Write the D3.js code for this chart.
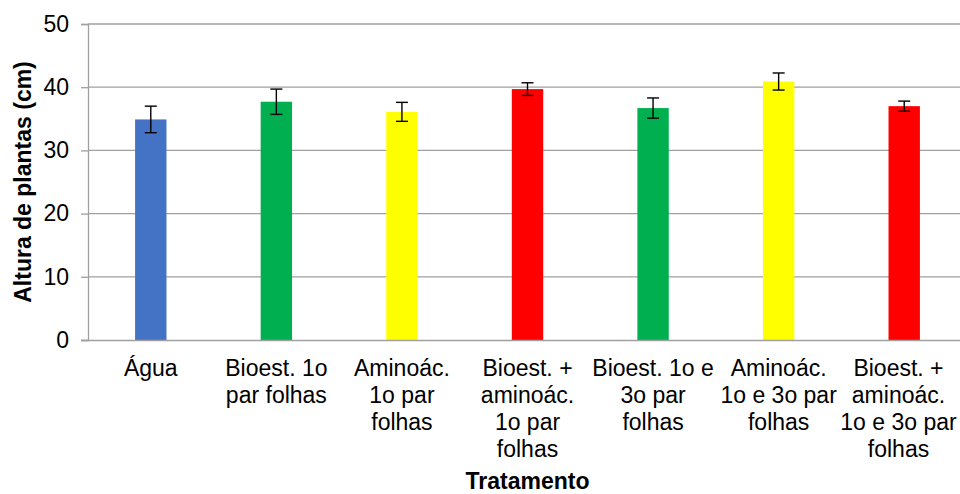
<!DOCTYPE html>
<html>
<head>
<meta charset="utf-8">
<script src="https://cdn.jsdelivr.net/npm/d3@7/dist/d3.min.js"></script>
<style>
  html, body { margin: 0; padding: 0; background: #fff; }
  svg { display: block; font-family: "Liberation Sans", Arial, sans-serif; }
</style>
</head>
<body>
<svg id="chart" width="960" height="494"></svg>
<script>
const categories = [
  ["Água"],
  ["Bioest. 1o", "par folhas"],
  ["Aminoác.", "1o par", "folhas"],
  ["Bioest. +", "aminoác.", "1o par", "folhas"],
  ["Bioest. 1o e", "3o par", "folhas"],
  ["Aminoác.", "1o e 3o par", "folhas"],
  ["Bioest. +", "aminoác.", "1o e 3o par", "folhas"]
];
const values = [34.9, 37.7, 36.1, 39.7, 36.7, 40.9, 37.0];
const errors = [2.1, 2.0, 1.5, 1.0, 1.6, 1.35, 0.8];
const barColors = ["#4472C4", "#00B050", "#FFFF00", "#FF0000", "#00B050", "#FFFF00", "#FF0000"];
const yTicks = [0, 10, 20, 30, 40, 50];
const yTitle = "Altura de plantas (cm)";
const xTitle = "Tratamento";

(function () {
const svg = d3.select("#chart");
const mLeft = 88, mRight = 967, mTop = 24, mBottom = 340;
const idx = categories.map((d, i) => i);

const x = d3.scaleBand().domain(idx).range([mLeft, mRight]).paddingInner(0.75).paddingOuter(0.375);
const y = d3.scaleLinear().domain([0, 50]).range([mBottom, mTop]);

// gridlines
svg.append("g").selectAll("line").data(yTicks.filter(t => t > 0)).join("line")
  .attr("x1", mLeft).attr("x2", mRight)
  .attr("y1", d => y(d)).attr("y2", d => y(d))
  .attr("stroke", "#a0a0a0").attr("stroke-width", 1.3);

// bars
svg.append("g").selectAll("rect").data(idx).join("rect")
  .attr("x", i => x(i)).attr("width", x.bandwidth())
  .attr("y", i => y(values[i])).attr("height", i => y(0) - y(values[i]))
  .attr("fill", i => barColors[i]);

// error bars
const eb = svg.append("g").attr("stroke", "#000").attr("stroke-width", 1.4);
idx.forEach(i => {
  const cx = x(i) + x.bandwidth() / 2;
  const hi = y(values[i] + errors[i]), lo = y(values[i] - errors[i]);
  eb.append("line").attr("x1", cx).attr("x2", cx).attr("y1", hi).attr("y2", lo);
  eb.append("line").attr("x1", cx - 6).attr("x2", cx + 6).attr("y1", hi).attr("y2", hi);
  eb.append("line").attr("x1", cx - 6).attr("x2", cx + 6).attr("y1", lo).attr("y2", lo);
});

// y axis
const yAxis = svg.append("g").attr("transform", `translate(${mLeft},0)`)
  .call(d3.axisLeft(y).tickValues(yTicks).tickSize(7).tickPadding(12).tickFormat(d3.format("d")));
yAxis.select(".domain").attr("stroke", "#a0a0a0").attr("stroke-width", 1.3);
yAxis.selectAll(".tick line").attr("stroke", "#a0a0a0").attr("stroke-width", 1.3);
yAxis.selectAll(".tick text").attr("font-size", 23).attr("fill", "#000")
  .attr("font-family", "Liberation Sans, Arial, sans-serif");

// x axis
const xAxis = svg.append("g").attr("transform", `translate(0,${mBottom})`)
  .call(d3.axisBottom(x).tickSize(0).tickFormat(() => ""));
xAxis.select(".domain").attr("d", `M${mLeft - 7},0.5H${mRight}`).attr("stroke", "#a0a0a0").attr("stroke-width", 1.3);
xAxis.selectAll(".tick text").each(function(i) {
  const t = d3.select(this).attr("y", 0).attr("dy", null)
    .attr("font-size", 23).attr("fill", "#000")
    .attr("font-family", "Liberation Sans, Arial, sans-serif");
  categories[i].forEach((line, k) => {
    t.append("tspan").attr("x", 0).attr("y", 36 + k * 27).text(line);
  });
  // keep labels inside the visible area
  const bb = this.getBBox();
  const tickX = x(i) + x.bandwidth() / 2;
  const overflow = tickX + bb.x + bb.width - 957;
  if (overflow > 0) t.selectAll("tspan").attr("x", -overflow);
});

// axis titles
svg.append("text")
  .attr("transform", `translate(31,${(mTop + mBottom) / 2}) rotate(-90)`)
  .attr("text-anchor", "middle")
  .attr("font-size", 23).attr("font-weight", "bold").text(yTitle);
svg.append("text")
  .attr("x", (mLeft + mRight) / 2).attr("y", 489)
  .attr("text-anchor", "middle")
  .attr("font-size", 23).attr("font-weight", "bold").text(xTitle);
})();
</script>
</body>
</html>
